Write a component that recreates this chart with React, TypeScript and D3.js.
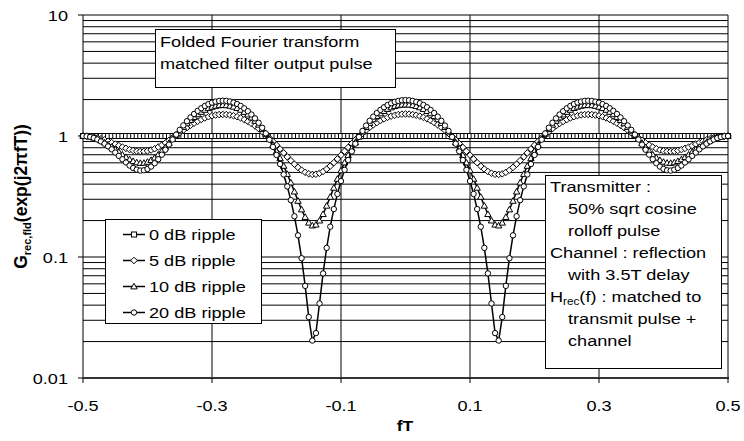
import React from 'react';
import * as d3 from 'd3';

// sampling grid of fT (181 samples from -0.5 to 0.5)
const fT: number[] = d3.range(181).map((i) => -0.5 + i / 180);

const ripple0dB: number[] = [
  1,1,1,1,1,1,1,1,1,1,1,1,1,1,1,1,1,1,1,1,
  1,1,1,1,1,1,1,1,1,1,1,1,1,1,1,1,1,1,1,1,
  1,1,1,1,1,1,1,1,1,1,1,1,1,1,1,1,1,1,1,1,
  1,1,1,1,1,1,1,1,1,1,1,1,1,1,1,1,1,1,1,1,
  1,1,1,1,1,1,1,1,1,1,1,1,1,1,1,1,1,1,1,1,
  1,1,1,1,1,1,1,1,1,1,1,1,1,1,1,1,1,1,1,1,
  1,1,1,1,1,1,1,1,1,1,1,1,1,1,1,1,1,1,1,1,
  1,1,1,1,1,1,1,1,1,1,1,1,1,1,1,1,1,1,1,1,
  1,1,1,1,1,1,1,1,1,1,1,1,1,1,1,1,1,1,1,1,
  1,
];

const ripple5dB: number[] = [
  1.000,0.998,0.991,0.981,0.966,0.948,0.928,0.905,0.881,0.857,
  0.833,0.810,0.790,0.772,0.759,0.749,0.745,0.746,0.753,0.766,
  0.785,0.811,0.842,0.878,0.920,0.965,1.014,1.066,1.119,1.172,
  1.225,1.276,1.324,1.369,1.409,1.443,1.470,1.490,1.503,1.507,
  1.504,1.492,1.472,1.444,1.409,1.367,1.320,1.268,1.211,1.152,
  1.090,1.027,0.964,0.901,0.840,0.781,0.725,0.673,0.626,0.585,
  0.550,0.522,0.501,0.487,0.481,0.483,0.492,0.509,0.533,0.564,
  0.602,0.646,0.695,0.748,0.805,0.866,0.928,0.991,1.054,1.117,
  1.178,1.236,1.291,1.341,1.386,1.426,1.459,1.485,1.504,1.516,
  1.520,
  1.516,1.504,1.485,1.459,1.426,1.386,1.341,1.291,1.236,1.178,
  1.117,1.054,0.991,0.928,0.866,0.805,0.748,0.695,0.646,0.602,
  0.564,0.533,0.509,0.492,0.483,0.481,0.487,0.501,0.522,0.550,
  0.585,0.626,0.673,0.725,0.781,0.840,0.901,0.964,1.027,1.090,
  1.152,1.211,1.268,1.320,1.367,1.409,1.444,1.472,1.492,1.504,
  1.507,1.503,1.490,1.470,1.443,1.409,1.369,1.324,1.276,1.225,
  1.172,1.119,1.066,1.014,0.965,0.920,0.878,0.842,0.811,0.785,
  0.766,0.753,0.746,0.745,0.749,0.759,0.772,0.790,0.810,0.833,
  0.857,0.881,0.905,0.928,0.948,0.966,0.981,0.991,0.998,1.000,
];

const ripple10dB: number[] = [
  1.000,0.997,0.986,0.969,0.947,0.919,0.886,0.851,0.813,0.775,
  0.737,0.701,0.669,0.641,0.620,0.605,0.598,0.600,0.611,0.632,
  0.662,0.702,0.751,0.808,0.874,0.945,1.023,1.104,1.187,1.271,
  1.354,1.435,1.511,1.581,1.643,1.697,1.740,1.772,1.792,1.799,
  1.794,1.775,1.743,1.700,1.644,1.579,1.504,1.421,1.333,1.239,
  1.142,1.043,0.943,0.844,0.747,0.654,0.566,0.485,0.412,0.347,
  0.291,0.247,0.214,0.192,0.182,0.185,0.200,0.226,0.265,0.314,
  0.373,0.442,0.519,0.603,0.694,0.788,0.886,0.986,1.086,1.184,
  1.280,1.372,1.458,1.537,1.608,1.670,1.722,1.764,1.794,1.812,
  1.818,
  1.812,1.794,1.764,1.722,1.670,1.608,1.537,1.458,1.372,1.280,
  1.184,1.086,0.986,0.886,0.788,0.694,0.603,0.519,0.442,0.373,
  0.314,0.265,0.226,0.200,0.185,0.182,0.192,0.214,0.247,0.291,
  0.347,0.412,0.485,0.566,0.654,0.747,0.844,0.943,1.043,1.142,
  1.239,1.333,1.421,1.504,1.579,1.644,1.700,1.743,1.775,1.794,
  1.799,1.792,1.772,1.740,1.697,1.643,1.581,1.511,1.435,1.354,
  1.271,1.187,1.104,1.023,0.945,0.874,0.808,0.751,0.702,0.662,
  0.632,0.611,0.600,0.598,0.605,0.620,0.641,0.669,0.701,0.737,
  0.775,0.813,0.851,0.886,0.919,0.947,0.969,0.986,0.997,1.000,
];

const ripple20dB: number[] = [
  1.000,0.996,0.983,0.963,0.936,0.902,0.864,0.821,0.776,0.730,
  0.685,0.642,0.604,0.570,0.544,0.527,0.518,0.521,0.534,0.559,
  0.595,0.643,0.701,0.770,0.849,0.935,1.027,1.124,1.224,1.325,
  1.424,1.521,1.612,1.696,1.771,1.835,1.887,1.925,1.949,1.957,
  1.951,1.928,1.891,1.838,1.772,1.693,1.604,1.505,1.399,1.287,
  1.170,1.051,0.932,0.813,0.697,0.586,0.481,0.383,0.295,0.217,
  0.151,0.0977,0.0577,0.0319,0.0204,0.0235,0.0413,0.0732,0.119,0.178,
  0.249,0.332,0.424,0.525,0.633,0.746,0.864,0.983,1.102,1.221,
  1.335,1.445,1.548,1.643,1.728,1.803,1.865,1.915,1.951,1.973,
  1.980,
  1.973,1.951,1.915,1.865,1.803,1.728,1.643,1.548,1.445,1.335,
  1.221,1.102,0.983,0.864,0.746,0.633,0.525,0.424,0.332,0.249,
  0.178,0.119,0.0732,0.0413,0.0235,0.0204,0.0319,0.0577,0.0977,0.151,
  0.217,0.295,0.383,0.481,0.586,0.697,0.813,0.932,1.051,1.170,
  1.287,1.399,1.505,1.604,1.693,1.772,1.838,1.891,1.928,1.951,
  1.957,1.949,1.925,1.887,1.835,1.771,1.696,1.612,1.521,1.424,
  1.325,1.224,1.124,1.027,0.935,0.849,0.770,0.701,0.643,0.595,
  0.559,0.534,0.521,0.518,0.527,0.544,0.570,0.604,0.642,0.685,
  0.730,0.776,0.821,0.864,0.902,0.936,0.963,0.983,0.996,1.000,
];

const seriesNames = ['0 dB ripple', '5 dB ripple', '10 dB ripple', '20 dB ripple'];
const seriesMarkers = ['square', 'diamond', 'triangle', 'circle'];
const seriesValues = [ripple0dB, ripple5dB, ripple10dB, ripple20dB];

const xTicks = [-0.5, -0.3, -0.1, 0.1, 0.3, 0.5];
const xTickLabels = ['-0.5', '-0.3', '-0.1', '0.1', '0.3', '0.5'];
const yTicks = [0.01, 0.1, 1, 10];
const yTickLabels = ['0.01', '0.1', '1', '10'];

const titleLines = ['Folded Fourier transform', 'matched filter output pulse'];

const FONT = "'Liberation Sans', Arial, Helvetica, sans-serif";
const SX = 1.17;

function T({ x, y, anchor = 'start', size = 15.5, bold = false, children }: any) {
  return (
    <text
      transform={`translate(${x},${y}) scale(${SX},1)`}
      textAnchor={anchor}
      fontSize={size}
      fontWeight={bold ? 'bold' : 'normal'}
      fontFamily={FONT}
      fill="#000"
    >
      {children}
    </text>
  );
}

function Marker({ type, cx, cy }: { type: string; cx: number; cy: number }) {
  const common = { fill: '#fff', stroke: '#000', strokeWidth: 1 };
  if (type === 'square') return <rect x={cx - 2.5} y={cy - 2.5} width={5} height={5} {...common} />;
  if (type === 'diamond')
    return <path d={`M${cx},${cy - 3.3}L${cx + 3.3},${cy}L${cx},${cy + 3.3}L${cx - 3.3},${cy}Z`} {...common} />;
  if (type === 'triangle')
    return <path d={`M${cx},${cy - 3.2}L${cx + 3.2},${cy + 2.4}L${cx - 3.2},${cy + 2.4}Z`} {...common} />;
  return <circle cx={cx} cy={cy} r={2.7} {...common} />;
}

export default function App() {
  const left = 83, right = 728, top = 15, bottom = 378;
  const x = d3.scaleLinear().domain([-0.5, 0.5]).range([left, right]);
  const y = d3.scaleLog().domain([0.01, 10]).range([bottom, top]);

  const gridY: number[] = [];
  [0.01, 0.1, 1].forEach((d) => {
    for (let k = 2; k <= 9; k++) gridY.push(d * k);
  });
  gridY.push(0.1, 1, 10);

  const line = d3
    .line<number>()
    .x((_, i) => x(fT[i]))
    .y((v) => y(v));

  const legendY = [234.5, 260.5, 286.5, 312.5];
  const boxLines: { text: any; indent: boolean }[] = [
    { text: 'Transmitter :', indent: false },
    { text: '50% sqrt cosine', indent: true },
    { text: 'rolloff pulse', indent: true },
    { text: 'Channel : reflection', indent: false },
    { text: 'with 3.5T delay', indent: true },
    { text: 'Hrec', indent: false },
    { text: 'transmit pulse +', indent: true },
    { text: 'channel', indent: true },
  ];

  return (
    <svg
      width={744}
      height={441}
      style={{ position: 'absolute', left: 0, top: 0, background: '#fff' }}
      xmlns="http://www.w3.org/2000/svg"
    >
      <rect x={0} y={0} width={744} height={441} fill="#fff" />
      {/* gridlines */}
      {gridY.map((v, i) => (
        <line key={'gy' + i} x1={left} x2={right} y1={y(v)} y2={y(v)} stroke="#000" strokeWidth={1} />
      ))}
      {xTicks.slice(1).map((v, i) => (
        <line key={'gx' + i} x1={x(v)} x2={x(v)} y1={top} y2={bottom} stroke="#000" strokeWidth={1} />
      ))}
      {/* axes */}
      <line x1={left} x2={left} y1={top} y2={bottom} stroke="#000" strokeWidth={1} />
      <line x1={left} x2={right + 1} y1={bottom} y2={bottom} stroke="#333" strokeWidth={2} />
      {yTicks.map((v, i) => (
        <line key={'yt' + i} x1={left - 5} x2={left} y1={y(v)} y2={y(v)} stroke="#000" strokeWidth={1} />
      ))}
      {xTicks.map((v, i) => (
        <line key={'xt' + i} x1={x(v)} x2={x(v)} y1={bottom} y2={bottom + 5} stroke="#000" strokeWidth={1} />
      ))}
      {yTicks.map((v, i) => (
        <T key={'yl' + i} x={68} y={y(v) + 5.5} anchor="end">
          {yTickLabels[i]}
        </T>
      ))}
      {xTicks.map((v, i) => (
        <T key={'xl' + i} x={x(v)} y={411} anchor="middle">
          {xTickLabels[i]}
        </T>
      ))}
      <T x={405} y={431} anchor="middle" size={15} bold>
        fT
      </T>
      <text
        transform="translate(27,196.5) rotate(-90)"
        textAnchor="middle"
        fontSize={17.5}
        fontWeight="bold"
        fontFamily={FONT}
        fill="#000"
      >
        G
        <tspan fontSize={11} dy={4}>
          rec,fld
        </tspan>
        <tspan dy={-4}>(exp(j2πfT))</tspan>
      </text>

      {/* series */}
      {seriesValues.map((vals, s) => (
        <g key={'s' + s}>
          <path d={line(vals) || ''} fill="none" stroke="#000" strokeWidth={1.5} />
          {vals.map((v, i) => (
            <Marker key={i} type={seriesMarkers[s]} cx={x(fT[i])} cy={y(v)} />
          ))}
        </g>
      ))}

      {/* title box */}
      <rect x={155.5} y={29.5} width={240} height={58} fill="#fff" stroke="#000" strokeWidth={1} />
      {titleLines.map((t, i) => (
        <T key={'tl' + i} x={160} y={47 + i * 21.5}>
          {t}
        </T>
      ))}

      {/* legend */}
      <rect x={105.5} y={219.5} width={156} height={104} fill="#fff" stroke="#000" strokeWidth={1} />
      {seriesNames.map((n, i) => (
        <g key={'lg' + i}>
          <line x1={123} x2={145} y1={legendY[i]} y2={legendY[i]} stroke="#000" strokeWidth={1.5} />
          <Marker type={seriesMarkers[i]} cx={134} cy={legendY[i]} />
          <T x={149} y={legendY[i] + 5.5}>
            {n}
          </T>
        </g>
      ))}

      {/* description box */}
      <rect x={545.5} y={175.5} width={176} height={193} fill="#fff" stroke="#000" strokeWidth={1} />
      {boxLines.map((l, i) =>
        l.text === 'Hrec' ? (
          <T key={'bl' + i} x={550} y={191.5 + i * 22}>
            H
            <tspan fontSize={10} dy={3}>
              rec
            </tspan>
            <tspan dy={-3}>(f) : matched to</tspan>
          </T>
        ) : (
          <T key={'bl' + i} x={l.indent ? 568 : 550} y={191.5 + i * 22}>
            {l.text}
          </T>
        )
      )}
    </svg>
  );
}
